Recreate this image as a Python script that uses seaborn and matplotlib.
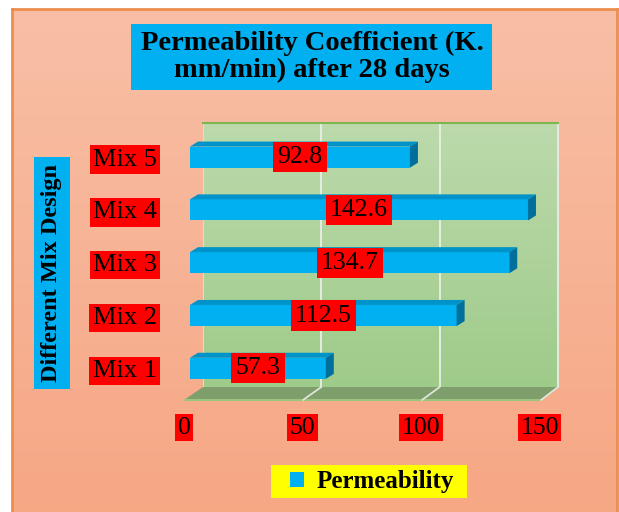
import numpy as np
import pandas as pd
import matplotlib.pyplot as plt
import seaborn as sns
from matplotlib.patches import Polygon, Rectangle

# data
mixes = ['Mix 5', 'Mix 4', 'Mix 3', 'Mix 2', 'Mix 1']
permeability = [92.8, 142.6, 134.7, 112.5, 57.3]
x_ticks = [0, 50, 100, 150]

df = pd.DataFrame({'Mix': mixes, 'Permeability': permeability})

sns.set_style('white')
plt.rcParams['font.family'] = ['Liberation Serif', 'DejaVu Serif']
plt.rcParams['text.color'] = 'black'
plt.rcParams['xtick.color'] = 'black'
plt.rcParams['ytick.color'] = 'black'

W, H = 619, 512
fig = plt.figure(figsize=(W / 100, H / 100), dpi=100)
fig.patch.set_facecolor('white')


def fbox(x0, y0, x1, y1):
    # pixel box (origin top-left) -> figure fraction rect
    return [x0 / W, 1 - y1 / H, (x1 - x0) / W, (y1 - y0) / H]


def fpt(x, y):
    return (x / W, 1 - y / H)


# salmon chart area
bg = fig.add_axes(fbox(12, 9, 617, 515), zorder=0)
grad = np.linspace(0, 1, 256).reshape(-1, 1)
bg.imshow(grad, aspect='auto', extent=[0, 1, 0, 1],
          cmap=sns.blend_palette(['#F8BFA6', '#F6A784'], as_cmap=True))
bg.set_xlim(0, 1)
bg.set_ylim(0, 1)
bg.set_xticks([])
bg.set_yticks([])
for side in ['left', 'top', 'right']:
    bg.spines[side].set_color('#EE8D4E')
    bg.spines[side].set_linewidth(2)
bg.spines['bottom'].set_visible(False)

# back wall of the 3D plot
wall = fig.add_axes(fbox(203, 123, 558, 387), zorder=1)
wall.imshow(grad, aspect='auto', extent=[0, 150, 0, 1],
            cmap=sns.blend_palette(['#BCDAAC', '#9FCB8A'], as_cmap=True))
wall.set_xlim(0, 150)
wall.set_ylim(0, 1)
for v in x_ticks[1:-1]:
    wall.axvline(v, color='#E9EFE5', lw=1.3)
wall.set_xticks([])
wall.set_yticks([])
wall.spines['top'].set_color('#7DB552')
wall.spines['top'].set_linewidth(1.5)
wall.spines['left'].set_color('#D8DED4')
wall.spines['right'].set_color('#E4E8E0')
wall.spines['right'].set_linewidth(1.5)
wall.spines['bottom'].set_visible(False)

# floor
floor = Polygon([fpt(184, 400), fpt(541, 400), fpt(558, 387), fpt(203, 387)],
                closed=True, transform=fig.transFigure, facecolor='#7E9E6B',
                edgecolor='none', zorder=1.5)
fig.patches.append(floor)
fig.lines.append(plt.Line2D([184 / W, 541 / W], [1 - 400 / H, 1 - 400 / H],
                            transform=fig.transFigure, color='#9CC47F', lw=1.5, zorder=1.6))
for v in x_ticks[1:]:
    xf = 184 + v * (541 - 184) / 150
    xb = 203 + v * (558 - 203) / 150
    fig.lines.append(plt.Line2D([xf / W, xb / W], [1 - 400 / H, 1 - 387 / H],
                                transform=fig.transFigure, color='#DDE6D8',
                                lw=1.3, zorder=1.6))

# front plane with the bars
ax = fig.add_axes(fbox(190, 136, 545.5, 400), zorder=3)
ax.patch.set_alpha(0)
sns.barplot(data=df, y='Mix', x='Permeability', color='#00B0F0', saturation=1,
            width=0.4, orient='h', label='Permeability', linewidth=0, ax=ax)
if ax.get_legend() is not None:
    ax.get_legend().remove()
ax.set_xlim(0, 150)
ax.set_ylim(4.6, -0.4)
ax.set_xlabel('')
ax.set_ylabel('')
ax.set_xticks(x_ticks)
ax.set_xticklabels([])
ax.tick_params(axis='x', length=0)
ax.tick_params(axis='y', length=0, pad=24, labelsize=19)
for lab in ax.get_yticklabels():
    lab.set_bbox(dict(boxstyle='square,pad=0.12', fc='#FF0000', ec='none'))
sns.despine(ax=ax, left=True, bottom=True)

# 3D look for the bars: top and side faces
px_x = 355.5 / 150
px_y = 264 / 5
dxd = 8 / px_x
dyd = 5 / px_y
for p in list(ax.patches):
    x0, w = p.get_x(), p.get_width()
    yt, yb = p.get_y(), p.get_y() + p.get_height()
    top = Polygon([(x0, yt), (x0 + w, yt), (x0 + w + dxd, yt - dyd), (x0 + dxd, yt - dyd)],
                  closed=True, facecolor='#0093CA', edgecolor='none', clip_on=False)
    side = Polygon([(x0 + w, yt), (x0 + w + dxd, yt - dyd), (x0 + w + dxd, yb - dyd), (x0 + w, yb)],
                   closed=True, facecolor='#006F9C', edgecolor='none', clip_on=False)
    ax.add_patch(top)
    ax.add_patch(side)

ax.bar_label(ax.containers[0], labels=[f'{v:.1f}' for v in permeability],
             label_type='center', fontsize=18.5,
             bbox=dict(boxstyle='square,pad=0.16', fc='#FF0000', ec='none'))

# x tick labels in red boxes
for v in x_ticks:
    ax.annotate(str(v), xy=(v, 0), xycoords=('data', 'axes fraction'),
                xytext=(-4.3, -20), textcoords='offset points',
                ha='center', va='center', fontsize=18.5, annotation_clip=False,
                bbox=dict(boxstyle='square,pad=0.1', fc='#FF0000', ec='none'))

# axis title
fig.text(52 / W, 1 - 273 / H, 'Different Mix Design', rotation=90,
         ha='center', va='center', fontsize=17.5, fontweight='bold',
         bbox=dict(boxstyle='square,pad=0.3', fc='#00B0F0', ec='none'), zorder=5)

# chart title
fig.patches.append(Rectangle(fpt(131, 90), 361 / W, 66 / H, transform=fig.transFigure,
                             facecolor='#00B0F0', edgecolor='none', zorder=4))
fig.text(312 / W, 1 - 57 / H, 'Permeability Coefficient (K.\nmm/min) after 28 days',
         ha='center', va='center', fontsize=20.5, fontweight='bold',
         linespacing=1.1, zorder=5)

# legend
fig.patches.append(Rectangle(fpt(271, 498), 196 / W, 33 / H, transform=fig.transFigure,
                             facecolor='#FFFF00', edgecolor='none', zorder=4))
handles, labels = ax.get_legend_handles_labels()
leg = fig.legend(handles[:1], ['Permeability'], loc='center',
                 bbox_to_anchor=(372 / W, 1 - 481.5 / H),
                 frameon=False, handlelength=0.55, handleheight=0.55, handletextpad=0.5,
                 borderpad=0, borderaxespad=0,
                 prop={'family': 'Liberation Serif', 'weight': 'bold', 'size': 18})
leg.set_zorder(5)

fig.savefig('out.png', dpi=100)
